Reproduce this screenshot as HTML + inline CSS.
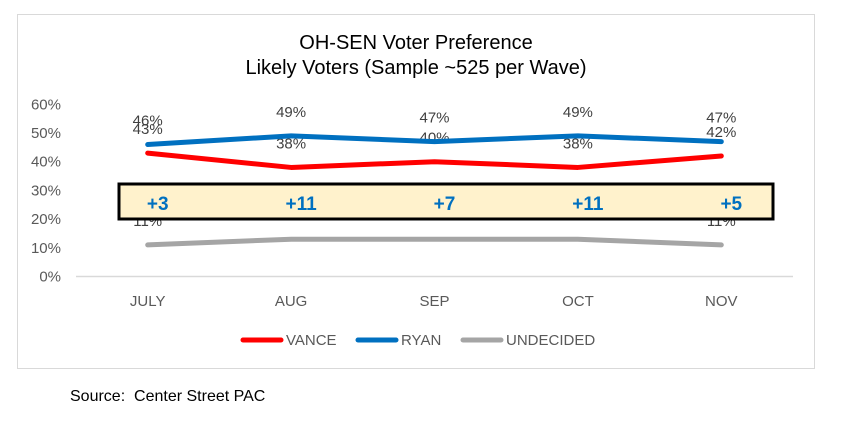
<!DOCTYPE html>
<html><head><meta charset="utf-8"><style>
body{margin:0;background:#fff;font-family:"Liberation Sans",sans-serif}
svg text{font-family:"Liberation Sans",sans-serif}
</style></head><body>
<svg width="844" height="431">
<rect x="17.5" y="14.5" width="797" height="354" fill="#fff" stroke="#d9d9d9"/>
<text x="416" y="49" font-size="20" text-anchor="middle" fill="#000">OH-SEN Voter Preference</text>
<text x="416" y="74" font-size="20" text-anchor="middle" fill="#000">Likely Voters (Sample ~525 per Wave)</text>
<g id="g"></g>
<text x="70" y="401" font-size="16" fill="#000">Source:&#160; Center Street PAC</text>
</svg>
<script>
const categories=["JULY","AUG","SEP","OCT","NOV"];
const vance=[43,38,40,38,42];
const ryan=[46,49,47,49,47];
const undecided=[11,13,13,13,11];
const undecidedLabels=["11%","","","","11%"];
const margins=["+3","+11","+7","+11","+5"];
const yTicks=[0,10,20,30,40,50,60];
const NS="http://www.w3.org/2000/svg";
const g=document.getElementById('g');
const x0=76,x1=793,yB=276.5,yPer=2.87;
const X=i=>x0+(x1-x0)/categories.length*(i+0.5);
const Y=v=>yB-v*yPer;
function mk(t,a,txt){const e=document.createElementNS(NS,t);for(const k in a)e.setAttribute(k,a[k]);if(txt!=null)e.textContent=txt;g.appendChild(e);return e;}
yTicks.forEach(t=>{const e=mk('text',{x:61,y:Y(t)+5,'font-size':15,'text-anchor':'end',fill:'#595959'},t+'%');

});
const ax=mk('line',{x1:x0,x2:x1,y1:yB,y2:yB,stroke:'#d9d9d9','stroke-width':1.5});


categories.forEach((c,i)=>{const e=mk('text',{x:X(i),y:306,'font-size':15,'text-anchor':'middle',fill:'#595959'},c);

});
function series(vals,color,name,labels){
const p=mk('polyline',{points:vals.map((v,i)=>X(i)+','+Y(v)).join(' '),fill:'none',stroke:color,'stroke-width':5,'stroke-linecap':'round','stroke-linejoin':'round'});


vals.forEach((v,i)=>{const s=labels?labels[i]:v+'%';if(!s)return;
const t=mk('text',{x:X(i),y:Y(v)-19,'font-size':15,'text-anchor':'middle',fill:'#404040'},s);

});}
series(undecided,'#a5a5a5','undecided',undecidedLabels);
series(vance,'#ff0000','vance');
series(ryan,'#0070c0','ryan');
const hb=mk('rect',{x:119,y:184,width:654,height:35,fill:'#fff2cc',stroke:'#000','stroke-width':3});


margins.forEach((m,i)=>{const t=mk('text',{x:X(i)+10,y:210,'font-size':19,'font-weight':'bold','text-anchor':'middle',fill:'#0070c0'},m);

});
const leg=[['VANCE','#ff0000',243],['RYAN','#0070c0',358],['UNDECIDED','#a5a5a5',463]];
leg.forEach(([n,c,lx])=>{const l=mk('line',{x1:lx,x2:lx+38,y1:340,y2:340,stroke:c,'stroke-width':5,'stroke-linecap':'round'});


const t=mk('text',{x:lx+43,y:345,'font-size':15,fill:'#595959'},n);

});
</script>
</body></html>
